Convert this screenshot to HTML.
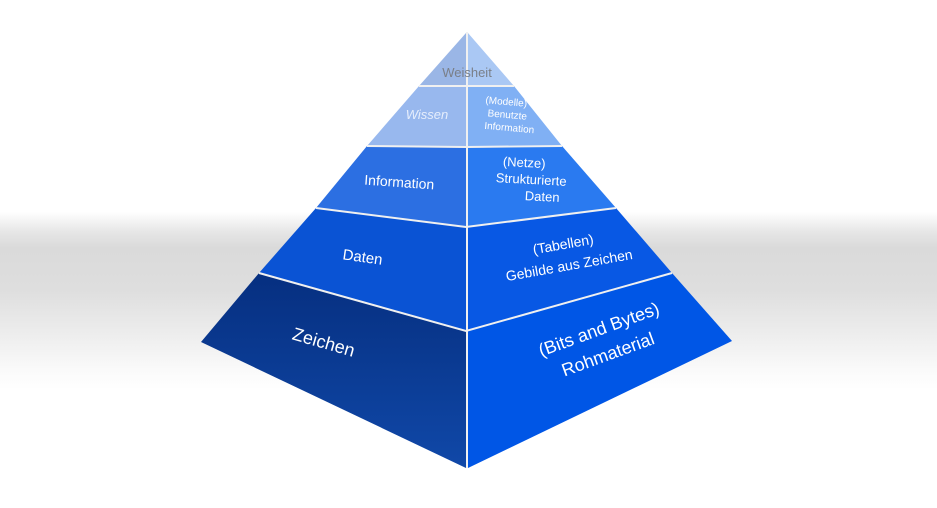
<!DOCTYPE html>
<html><head><meta charset="utf-8"><style>
html,body{margin:0;padding:0;}
body{width:937px;height:508px;overflow:hidden;background:linear-gradient(to bottom,#fff 0px,#fff 212px,#e6e6e6 232px,#dadada 248px,#dedede 290px,#efefef 340px,#fafafa 370px,#fff 390px,#fff 508px);}
svg{position:absolute;left:0;top:0;}
text{font-family:"Liberation Sans",sans-serif;fill:#fff;}
</style></head><body>
<svg width="937" height="508" viewBox="0 0 937 508">
<defs>
<linearGradient id="zl" x1="0" y1="0" x2="0" y2="1"><stop offset="0" stop-color="#062f80"/><stop offset="1" stop-color="#1048a8"/></linearGradient>
</defs>
<g stroke="none">
<polygon points="466,33 419,86 466,86" fill="#9ab6e6"/>
<polygon points="419,86 466,86 466,147 367,146" fill="#98b8ee"/>
<polygon points="367,146 466,147 466,227 316,208" fill="#2c6fe2"/>
<polygon points="316,208 466,227 466,331 259,273" fill="#0a53d4"/>
<polygon points="259,273 466,331 466,468 201,342" fill="url(#zl)"/>
<polygon points="468,33 514,86 468,86" fill="#aac8f4"/>
<polygon points="468,86 514,86 562,146 468,147" fill="#80b0f4"/>
<polygon points="468,147 562,146 616,208 468,227" fill="#2a7af0"/>
<polygon points="468,227 616,208 672,273 468,331" fill="#0858e4"/>
<polygon points="468,331 672,273 732,341 468,468" fill="#0056e6"/>
</g>
<g stroke="#f0f0f0" stroke-width="2" fill="none">
<line x1="467" y1="32" x2="467" y2="468"/>
<polyline points="419,86 514,86"/>
<polyline points="367,146 466,147 562,146"/>
<polyline points="316,208 466,227 616,208"/>
<polyline points="259,273 466,331 672,273"/>
</g>
<text x="467" y="77" font-size="13" text-anchor="middle" style="fill:#7a7f88">Weisheit</text>
<text x="427" y="119" font-size="13" text-anchor="middle" font-style="italic" style="fill:#e6eefc">Wissen</text>
<g font-size="10" text-anchor="middle">
<text x="506" y="105" transform="rotate(5 506 105)">(Modelle)</text>
<text x="507" y="118" transform="rotate(5 507 118)">Benutzte</text>
<text x="509" y="131" transform="rotate(5 509 131)">Information</text>
</g>
<text x="399" y="187" font-size="14" text-anchor="middle" transform="rotate(4 399 187)">Information</text>
<g font-size="13" text-anchor="middle">
<text x="524" y="167" transform="rotate(3 524 167)">(Netze)</text>
<text x="531" y="184" transform="rotate(3 531 184)">Strukturierte</text>
<text x="542" y="201" transform="rotate(3 542 201)">Daten</text>
</g>
<text x="362" y="262" font-size="15" text-anchor="middle" transform="rotate(8 362 262)">Daten</text>
<g font-size="14" text-anchor="middle">
<text x="564" y="249" transform="rotate(-10 564 249)">(Tabellen)</text>
<text x="570" y="270" transform="rotate(-10 570 270)">Gebilde aus Zeichen</text>
</g>
<text x="322" y="348" font-size="18" text-anchor="middle" transform="rotate(16 322 348)">Zeichen</text>
<g font-size="18" text-anchor="middle">
<text x="601" y="335" transform="rotate(-20 601 335)">(Bits and Bytes)</text>
<text x="610" y="360" transform="rotate(-20 610 360)">Rohmaterial</text>
</g>
</svg>
</body></html>
